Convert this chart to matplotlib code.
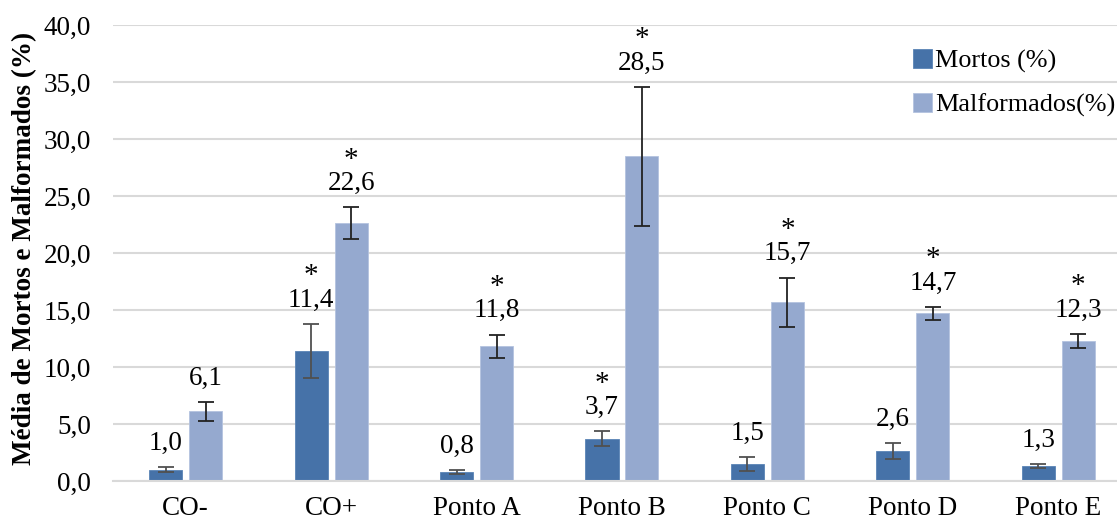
import matplotlib
matplotlib.use("Agg")
import matplotlib.pyplot as plt
import numpy as np

categories = ["CO-", "CO+", "Ponto A", "Ponto B", "Ponto C", "Ponto D", "Ponto E"]
mortos = [1.0, 11.4, 0.8, 3.7, 1.5, 2.6, 1.3]
mortos_err = [0.25, 2.4, 0.2, 0.65, 0.6, 0.7, 0.17]
malf = [6.1, 22.6, 11.8, 28.5, 15.7, 14.7, 12.3]
malf_err = [0.85, 1.4, 1.05, 6.1, 2.15, 0.55, 0.6]
mortos_sig = [False, True, False, True, False, False, False]
malf_sig = [False, True, True, True, True, True, True]
series_labels = ["Mortos (%)", "Malformados(%)"]
yticks = [0, 5, 10, 15, 20, 25, 30, 35, 40]

plt.rcParams['font.family'] = ['Liberation Serif', 'DejaVu Serif']
FS = 19.5

fig = plt.figure(figsize=(11.17, 5.23), dpi=100)
W, H = 1117, 523
ax = fig.add_axes([113 / W, 1 - 481 / H, (1117 - 113) / W, (481 - 25) / H])

x = np.arange(len(categories))
bw = 0.227
off = 0.1375
c1 = "#4672a8"
c2 = "#95a9cf"

ax.bar(x - off, mortos, bw, color=c1, edgecolor="#5a84b6", linewidth=0.6,
       label=series_labels[0], zorder=2)
ax.bar(x + off, malf, bw, color=c2, edgecolor="#b4c3df", linewidth=0.6,
       label=series_labels[1], zorder=2)
ax.errorbar(x - off, mortos, yerr=mortos_err, fmt="none", ecolor="#505050",
            elinewidth=1.3, capsize=5.5, capthick=1.3, zorder=3)
ax.errorbar(x + off, malf, yerr=malf_err, fmt="none", ecolor="#222222",
            elinewidth=1.3, capsize=5.5, capthick=1.3, zorder=3)

def label(xs, vals, errs, sigs):
    for xi, v, e, s in zip(xs, vals, errs, sigs):
        ax.annotate(f"{v:.1f}".replace(".", ","), (xi, v + e), xytext=(0, 17),
                    textcoords="offset points", ha="center", va="center",
                    fontsize=FS)
        if s:
            ax.annotate("*", (xi, v + e), xytext=(0, 25),
                        textcoords="offset points", ha="center", va="bottom",
                        fontsize=21)

label(x - off, mortos, mortos_err, mortos_sig)
label(x + off, malf, malf_err, malf_sig)

ax.set_ylim(0, 40)
ax.set_xlim(-0.5, 6.5 - 14 / 145.5)
ax.set_yticks(yticks)
ax.set_yticklabels([f"{t:.1f}".replace(".", ",") for t in yticks], fontsize=FS)
ax.set_xticks(x)
ax.set_xticklabels(categories, fontsize=FS)
ax.tick_params(axis="y", length=0, pad=16)
ax.tick_params(axis="x", length=0, pad=11)
ax.yaxis.grid(True, color="#d9d9d9", linewidth=1.5, zorder=0)
ax.set_axisbelow(True)
for s in ["top", "right", "left"]:
    ax.spines[s].set_visible(False)
ax.spines["bottom"].set_color("#d9d9d9")
ax.spines["bottom"].set_linewidth(1.5)

fig.text(25 / W, 1 - 248 / H, "Média de Mortos e Malformados (%)", rotation=90,
         ha="center", va="center", fontsize=FS, fontweight="bold")

leg = ax.legend(loc="upper left", bbox_to_anchor=(913 / W, 1 - 49 / H),
                bbox_transform=fig.transFigure, frameon=False, fontsize=18.8,
                handlelength=0.72, handleheight=0.72, handletextpad=0.12,
                labelspacing=0.78, borderaxespad=0, borderpad=0)

fig.savefig("out.png", dpi=100)
